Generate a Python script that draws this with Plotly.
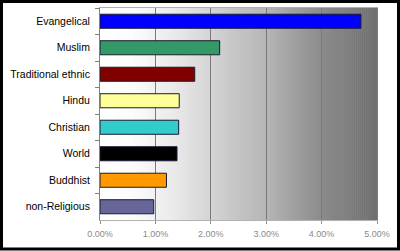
import plotly.graph_objects as go
import numpy as np

categories = ["Evangelical", "Muslim", "Traditional ethnic", "Hindu",
              "Christian", "World", "Buddhist", "non-Religious"]
growth = [0.0471, 0.0216, 0.0171, 0.0143, 0.0142, 0.0139, 0.0120, 0.0097]
colors = ["#0000FF", "#339966", "#800000", "#FFFF99",
          "#33CCCC", "#000000", "#FF9900", "#666699"]
x_ticks = [0, 0.01, 0.02, 0.03, 0.04, 0.05]

W, H = 400, 251
L, R, T, B = 100, 23, 8, 31
pw, ph = W - L - R, H - T - B

def px_to_paper(x, y):
    return (x - L) / pw, (H - B - y) / ph

fig = go.Figure(go.Bar(
    y=categories, x=growth, orientation="h",
    marker=dict(color=colors, line=dict(color="#1a1a33", width=1)),
    hoverinfo="skip",
))

shapes = []
# gradient background of plot area
anchors_t = [0, 0.12, 0.29, 0.6, 0.8, 1.0]
anchors_v = [255, 252, 230, 180, 140, 110]
n = 140
for i in range(n):
    t0, t1 = i / n, (i + 1) / n
    v = int(round(np.interp((t0 + t1) / 2, anchors_t, anchors_v)))
    c = f"rgb({v},{v},{v})"
    shapes.append(dict(type="rect", xref="x domain", yref="y domain",
                       x0=t0, x1=t1 + 0.002, y0=0, y1=1,
                       fillcolor=c, line=dict(width=0), layer="below"))

# outer black frame
fx0, fy0 = px_to_paper(1.5, 1.5)
fx1, fy1 = px_to_paper(398.5, 249)
shapes.append(dict(type="rect", xref="paper", yref="paper",
                   x0=fx0, x1=fx1, y0=fy1, y1=fy0,
                   line=dict(color="black", width=3), fillcolor="rgba(0,0,0,0)"))

fig.update_layout(
    width=W, height=H,
    margin=dict(l=L, r=R, t=T, b=B, pad=0),
    paper_bgcolor="white", plot_bgcolor="white",
    bargap=0.47,
    showlegend=False,
    shapes=shapes,
    font=dict(family="Arial, Liberation Sans, sans-serif"),
    xaxis=dict(range=[0, 0.05], tickvals=x_ticks, tickformat=".2%",
               showgrid=True, gridcolor="#7a7a7a", gridwidth=1,
               showline=True, linecolor="#b0b0b0", mirror=True,
               ticks="outside", ticklen=3, tickcolor="#909090",
               ticklabelstandoff=2,
               tickfont=dict(size=9, color="#8a8a8a"),
               zeroline=False, fixedrange=True),
    yaxis=dict(autorange="reversed", showgrid=False,
               showline=True, linecolor="#808080", mirror=True,
               ticks="outside", ticklen=4, tickcolor="#808080",
               tickson="boundaries", ticklabelstandoff=7,
               tickfont=dict(size=10.5, color="black"),
               fixedrange=True),
)

fig.write_html("out.html")
